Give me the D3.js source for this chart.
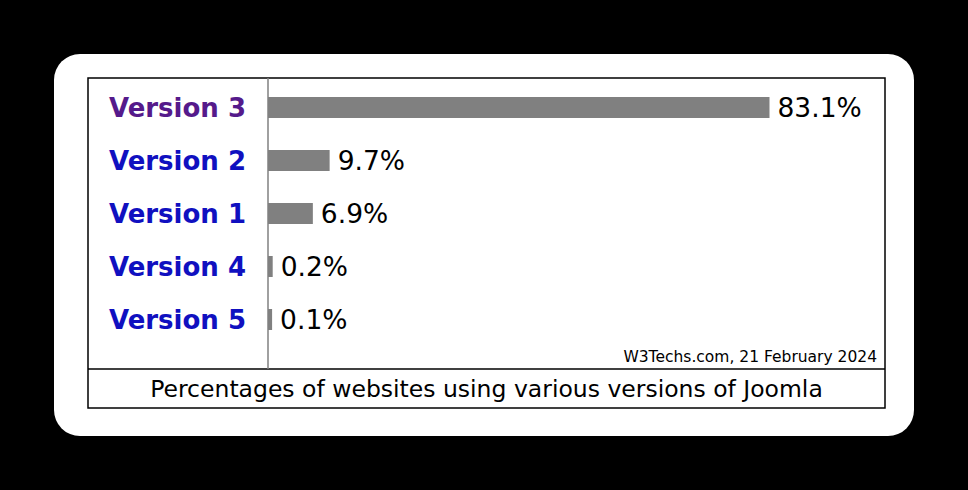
<!DOCTYPE html>
<html>
<head>
<meta charset="utf-8">
<script src="https://cdn.jsdelivr.net/npm/d3@7"></script>
<style>
  html, body { margin: 0; padding: 0; background: #000; }
  svg { display: block; }
</style>
</head>
<body>
<div id="chart"></div>
<script>
// values
const versions = ["Version 3", "Version 2", "Version 1", "Version 4", "Version 5"];
const shares = [83.1, 9.7, 6.9, 0.2, 0.1];
const shareLabels = ["83.1%", "9.7%", "6.9%", "0.2%", "0.1%"];
const caption = "Percentages of websites using various versions of Joomla";
const credit = "W3Techs.com, 21 February 2024";

const W = 968, H = 490;
const box = {left: 88, top: 78, right: 885, bottom: 408, split: 369};
const axisX = 268;
const font = "DejaVu Sans, Verdana, sans-serif";

const svg = d3.select("#chart").append("svg")
    .attr("width", W)
    .attr("height", H);

svg.append("rect")
    .attr("x", 54).attr("y", 54)
    .attr("width", 860).attr("height", 382)
    .attr("rx", 26).attr("ry", 26)
    .attr("fill", "#fff");

svg.append("rect")
    .attr("x", box.left).attr("y", box.top)
    .attr("width", box.right - box.left).attr("height", box.bottom - box.top)
    .attr("fill", "#fff")
    .attr("stroke", "#000")
    .attr("stroke-width", 1.5);

svg.append("line")
    .attr("x1", box.left).attr("x2", box.right)
    .attr("y1", box.split).attr("y2", box.split)
    .attr("stroke", "#000")
    .attr("stroke-width", 1.5);

const y = d3.scaleBand()
    .domain(versions)
    .range([81, 346])
    .paddingInner(0.6)
    .paddingOuter(0.3);

const x = d3.scaleLinear()
    .domain([0, 83.1])
    .range([0, 498]);

const g = svg.append("g");

g.selectAll(".bar")
    .data(versions)
    .enter().append("rect")
    .attr("class", "bar")
    .attr("x", axisX)
    .attr("y", (d) => y(d) + y.bandwidth() / 2 - 10.5)
    .attr("width", (d, i) => x(shares[i]) + 3.5)
    .attr("height", 21)
    .attr("fill", "#808080");

g.selectAll(".val")
    .data(versions)
    .enter().append("text")
    .attr("class", "val")
    .attr("x", (d, i) => axisX + x(shares[i]) + 3.5 + 8)
    .attr("y", (d) => y(d) + y.bandwidth() / 2)
    .attr("dy", "0.36em")
    .attr("font-family", font)
    .attr("font-size", 26.5)
    .attr("fill", "#000")
    .text((d, i) => shareLabels[i]);

g.selectAll(".cat")
    .data(versions)
    .enter().append("text")
    .attr("class", "cat")
    .attr("x", 246)
    .attr("y", (d) => y(d) + y.bandwidth() / 2)
    .attr("dy", "0.36em")
    .attr("text-anchor", "end")
    .attr("font-family", font)
    .attr("font-weight", "bold")
    .attr("font-size", 26)
    .attr("fill", (d, i) => i === 0 ? "#551a8b" : "#1010c0")
    .text((d) => d);

svg.append("line")
    .attr("x1", axisX).attr("x2", axisX)
    .attr("y1", box.top).attr("y2", box.split)
    .attr("stroke", "#808080")
    .attr("stroke-width", 1.5);

svg.append("text")
    .attr("x", 877)
    .attr("y", 362)
    .attr("text-anchor", "end")
    .attr("font-family", font)
    .attr("font-size", 15.5)
    .attr("fill", "#000")
    .text(credit);

svg.append("text")
    .attr("x", (box.left + box.right) / 2)
    .attr("y", 389)
    .attr("dy", "0.36em")
    .attr("text-anchor", "middle")
    .attr("font-family", font)
    .attr("font-size", 23.5)
    .attr("fill", "#000")
    .text(caption);
</script>
</body>
</html>
